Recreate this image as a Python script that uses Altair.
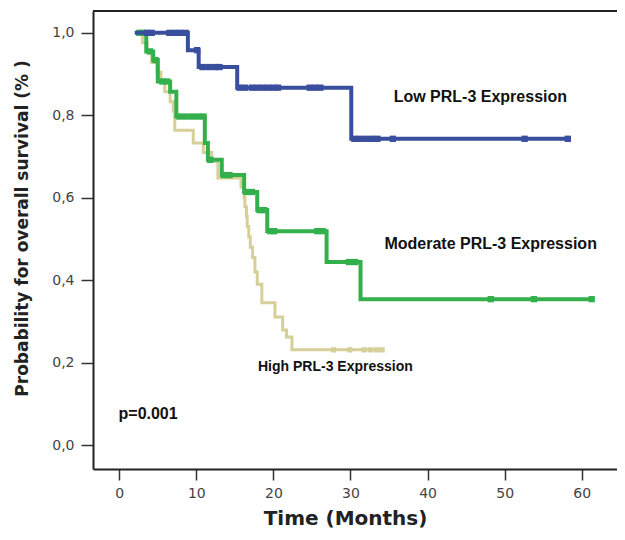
import altair as alt
import pandas as pd

# ---- Kaplan-Meier step data (time in months, survival) ----
low_t = [2.0, 8.9, 10.3, 15.3, 30.1, 58.2]
low_s = [1.0, 0.958, 0.917, 0.867, 0.743, 0.743]
low_cens = [3.6, 4.2, 6.5, 7.2, 7.9, 8.6, 10.1, 10.8, 11.6, 12.4, 13.0,
            15.6, 16.3, 17.2, 17.9, 18.6, 19.3, 20.0, 20.6, 24.7, 25.4, 26.1,
            30.5, 31.2, 32.0, 32.8, 33.5, 35.5, 52.6, 58.2]

mod_t = [2.3, 3.5, 4.4, 5.0, 6.6, 7.4, 11.1, 11.5, 13.3, 16.2, 17.9, 19.2, 26.9, 31.3, 61.3]
mod_s = [1.0, 0.955, 0.934, 0.882, 0.857, 0.797, 0.733, 0.692, 0.655, 0.614, 0.570, 0.519, 0.444, 0.354, 0.354]
mod_cens = [2.6, 3.1, 4.0, 4.7, 5.6, 6.2, 7.8, 8.6, 9.4, 10.2, 10.9, 11.8, 13.6, 14.3,
            16.5, 17.2, 18.2, 18.8, 19.6, 20.1, 25.7, 26.4, 29.8, 30.6, 48.2, 53.8, 61.3]

high_t = [2.3, 3.0, 3.6, 4.2, 4.9, 5.4, 5.9, 6.6, 7.0, 7.2, 9.6, 10.9, 12.0, 12.8, 15.8,
          16.2, 16.3, 16.5, 16.6, 16.8, 17.0, 17.3, 17.6, 17.9, 18.5, 20.2, 21.2, 21.7, 22.4, 34.1]
high_s = [1.0, 0.976, 0.952, 0.928, 0.905, 0.881, 0.857, 0.833, 0.810, 0.764, 0.733, 0.710, 0.688, 0.648, 0.626,
          0.600, 0.578, 0.555, 0.530, 0.505, 0.480, 0.455, 0.420, 0.390, 0.345, 0.311, 0.279, 0.262, 0.231, 0.231]
high_cens = [27.8, 29.9, 31.8, 32.6, 33.4, 34.1]

x_ticks = [0, 10, 20, 30, 40, 50, 60]
y_ticks = [0.0, 0.2, 0.4, 0.6, 0.8, 1.0]

ann_text = ["Low PRL-3 Expression", "Moderate PRL-3 Expression", "High PRL-3 Expression", "p=0.001"]
ann_t = [35.6, 34.4, 18.0, -0.1]
ann_s = [0.845, 0.488, 0.189, 0.075]
ann_size = [16, 16, 14, 16]

colors = {"low": "#3A4E9E", "mod": "#33B04B", "high": "#D6CF98"}
widths = {"low": 4, "mod": 4, "high": 3}


def step_df(ts, ss):
    return pd.DataFrame({"t": ts, "s": ss, "o": list(range(len(ts)))})


def value_at(ts, ss, c):
    v = ss[0]
    for t, s in zip(ts, ss):
        if t <= c:
            v = s
    return v


def cens_df(ts, ss, cs):
    return pd.DataFrame({"t": cs, "s": [value_at(ts, ss, c) for c in cs]})


W, H = 524, 458
xs = alt.Scale(domain=[-3.41, 64.58], nice=False, zero=False)
ys = alt.Scale(domain=[-0.058, 1.053], nice=False, zero=False)

x_axis = alt.Axis(values=x_ticks, format="d", grid=False, labelFont="DejaVu Sans", labelFontSize=14,
                  labelColor="#444", tickSize=11, tickColor="#333", tickWidth=1.5,
                  domainColor="#222", domainWidth=2, labelPadding=6,
                  title="Time (Months)", titleFont="DejaVu Sans", titleFontSize=20, titleFontWeight="bold",
                  titleColor="#222", titleX=252, titleY=49, titleBaseline="middle", titleAlign="center")
y_axis = alt.Axis(values=y_ticks, grid=False, labelFont="DejaVu Sans", labelFontSize=14,
                  labelColor="#444", tickSize=12, tickColor="#333", tickWidth=1.5,
                  domainColor="#222", domainWidth=2, labelPadding=7,
                  labelExpr="replace(format(datum.value, '.1f'), '.', ',')",
                  title="Probability for overall survival (% )", titleFont="DejaVu Sans", titleFontSize=17,
                  titleFontWeight="bold", titleColor="#222", titleX=-71, titleY=217,
                  titleBaseline="middle", titleAlign="center")

X = alt.X("t:Q", scale=xs, axis=x_axis)
Y = alt.Y("s:Q", scale=ys, axis=y_axis)

layers = []
for key, ts, ss, cs in [("high", high_t, high_s, high_cens), ("mod", mod_t, mod_s, mod_cens),
                        ("low", low_t, low_s, low_cens)]:
    line = alt.Chart(step_df(ts, ss)).mark_line(
        interpolate="step-after", color=colors[key], strokeWidth=widths[key]
    ).encode(x=X, y=Y, order="o:Q")
    marks = alt.Chart(cens_df(ts, ss, cs)).mark_square(
        color=colors[key], size=40 if key != "high" else 28, opacity=1
    ).encode(x=X, y=Y)
    layers += [line, marks]

for txt, t, s, fs in zip(ann_text, ann_t, ann_s, ann_size):
    layers.append(
        alt.Chart(pd.DataFrame({"t": [t], "s": [s], "label": [txt]}))
        .mark_text(align="left", baseline="middle", font="Liberation Sans",
                   fontWeight="bold", fontSize=fs, color="#111")
        .encode(x=X, y=Y, text="label:N")
    )

top_border = alt.Chart().mark_rule(color="#222", strokeWidth=2).encode(
    x=alt.value(0), x2=alt.value(W), y=alt.value(0))
layers.append(top_border)

chart = alt.layer(*layers).properties(
    width=W, height=H,
    autosize=alt.AutoSizeParams(type="none"),
    padding={"left": 85, "top": 3, "right": 0, "bottom": 59},
    background="white",
).configure_view(stroke=None, strokeWidth=0)

chart.save("out.html", embed_options={"renderer": "svg", "actions": False})
